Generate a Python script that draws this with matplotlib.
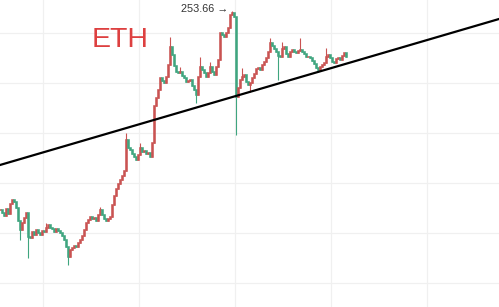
### ETH candlestick sketch with a rising trend line
import numpy as np
from matplotlib import pyplot as plt

# closing prices, one candle every ~2 px of the original screenshot
closes = [214.6, 214.0, 213.4, 214.8, 213.8, 215.8, 216.6, 216.2, 215.0, 212.4,
          210.6, 212.0, 213.0, 214.0, 209.2, 209.0, 210.2, 209.6, 210.6, 210.0,
          209.6, 210.4, 210.2, 211.0, 211.6, 211.0, 210.8, 210.2, 210.8, 210.4,
          210.0, 209.4, 208.6, 207.2, 205.2, 206.6, 207.0, 207.4, 207.2, 208.0,
          208.6, 209.4, 210.6, 212.0, 212.6, 213.2, 212.8, 213.0, 212.4, 213.6,
          214.6, 213.6, 212.8, 212.4, 212.8, 213.2, 215.6, 217.4, 218.8, 219.8,
          220.6, 221.4, 222.4, 228.6, 227.0, 226.6, 225.8, 225.2, 224.6, 225.6,
          227.0, 226.2, 226.4, 225.8, 226.0, 225.2, 228.0, 235.4, 237.0, 238.6,
          241.0, 240.4, 240.0, 241.2, 243.6, 247.2, 245.6, 243.4, 242.2, 242.0,
          242.2, 241.4, 241.0, 240.2, 240.4, 240.6, 239.4, 238.6, 237.6, 241.2,
          243.2, 242.6, 242.0, 241.2, 242.0, 243.2, 242.2, 241.6, 243.2, 244.6,
          250.0, 249.6, 249.2, 250.0, 251.0, 253.6, 254.0, 253.2, 237.2, 239.0,
          240.6, 241.2, 241.6, 240.2, 239.6, 240.0, 241.0, 241.8, 242.8, 243.0,
          242.6, 243.6, 244.2, 245.0, 246.2, 248.0, 247.4, 246.8, 246.2, 245.4,
          245.2, 246.8, 247.2, 245.8, 245.2, 246.2, 246.6, 246.2, 246.0, 246.4,
          246.6, 246.2, 245.8, 245.2, 245.2, 245.0, 244.4, 243.8, 243.0, 242.6,
          243.2, 243.6, 244.0, 245.2, 245.6, 245.0, 244.2, 244.0, 244.8, 245.0,
          244.6, 245.4, 246.0, 245.2]

# long wicks that stick out of the bodies (candle index: price)
wick_hi = {23: 212.0, 50: 215.2, 63: 230.0, 70: 228.0, 85: 249.2, 90: 243.2,
           100: 245.2, 105: 244.2, 116: 254.4, 121: 243.0, 135: 249.0,
           141: 248.2, 150: 249.0, 163: 247.0}
wick_lo = {10: 208.6, 14: 205.0, 34: 203.6, 98: 236.0, 118: 229.6,
           125: 238.2, 139: 240.6, 159: 242.2}

peak_label = '253.66 \u2192'

# trend line end points (price at left edge, price at right edge)
trend = [223.6, 252.8]

###############################################################################
### build the candles
###############################################################################

closes = np.array(closes)
opens = np.r_[closes[0], closes[:-1]]
highs = np.maximum(opens, closes)
lows = np.minimum(opens, closes)
for i, v in wick_hi.items():
    highs[i] = v
for i, v in wick_lo.items():
    lows[i] = v

idx = np.arange(len(closes))
up = closes >= opens
red = '#c95352'
green = '#3fa57f'
cols = np.where(up, red, green)

###############################################################################
### plotting
###############################################################################

fig = plt.figure(figsize=(4.99, 3.07), dpi=100)
ax = fig.add_axes([0, 0, 1, 1])

xmax = 499 / 2.0
ax.set_xlim(0, xmax)
ax.set_ylim(256.6 - 0.2 * 307, 256.6)

# light grid
for px in [43, 139, 235, 331, 427]:
    ax.axvline(px / 2.0, color='#f0f0f0', lw=0.9, zorder=0)
for p in [200, 210, 220, 230, 240, 250]:
    ax.axhline(p, color='#f0f0f0', lw=0.9, zorder=0)

ax.vlines(idx, lows, highs, colors=cols, lw=0.8, zorder=2)
ax.bar(idx, np.abs(closes - opens) + 0.15, bottom=np.minimum(opens, closes),
       width=0.55, color=cols, edgecolor=cols, linewidth=0.4, zorder=3)

ax.plot([0, xmax], trend, color='black', lw=1.6, zorder=4)

ax.text(92 / 499, 1 - 47 / 307, 'ETH', transform=ax.transAxes,
        fontsize=20.5, color='#dd4040', va='baseline', ha='left',
        family=['Liberation Sans', 'DejaVu Sans'])
ax.text(181 / 499, 1 - 9.5 / 307, peak_label, transform=ax.transAxes,
        fontsize=7.8, color='#333333', va='center', ha='left',
        family=['Liberation Sans', 'DejaVu Sans'])

for s in ax.spines.values():
    s.set_visible(False)
ax.set_xticks([])
ax.set_yticks([])

plt.savefig('out.png', dpi=100)
